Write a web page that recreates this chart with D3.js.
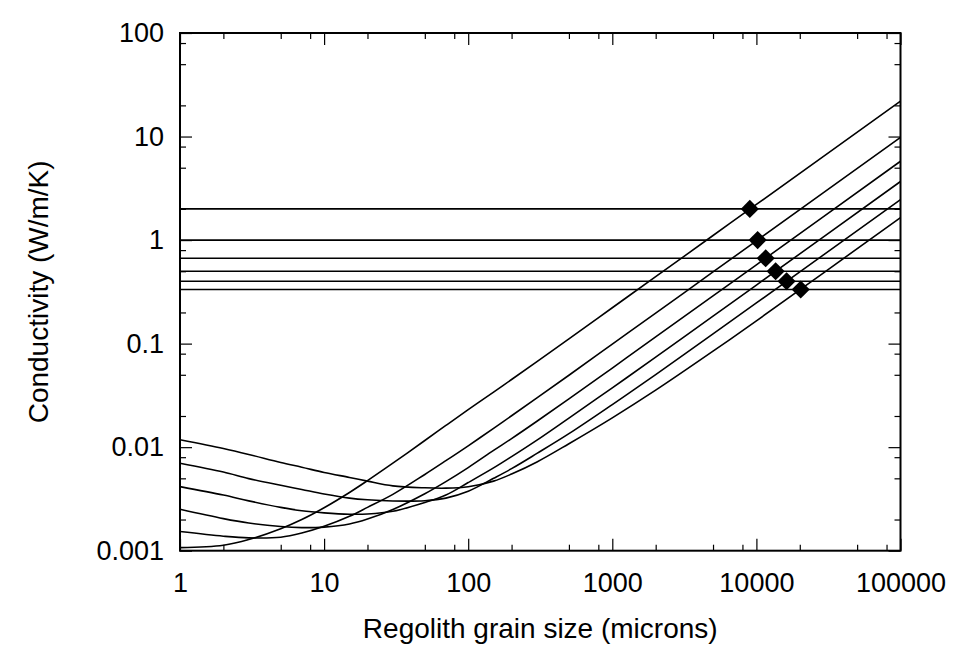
<!DOCTYPE html>
<html>
<head>
<meta charset="utf-8">
<script src="https://d3js.org/d3.v7.min.js"></script>
<style>
  body { margin: 0; background: #fff; }
  text { font-family: "Liberation Sans", Arial, Helvetica, sans-serif; fill: #000; }
  .tick line { stroke: #000; stroke-width: 1.2px; }
</style>
</head>
<body>
<script>
// grain size grid (microns) shared by all curves
var grainSize = [1, 2, 3, 5, 7, 10, 15, 20, 30, 50, 70, 100, 150, 200, 300, 500, 1000, 2000, 5000, 10000, 100000];

// conductivity curves (W/m/K)
var curveA = [0.00107, 0.00113, 0.00128, 0.00163, 0.00200, 0.00260, 0.00365, 0.00475, 0.0070, 0.0116, 0.0162, 0.0230, 0.0340, 0.0450, 0.0670, 0.111, 0.222, 0.443, 1.107, 2.21, 22.0];
var curveB = [0.00153, 0.00138, 0.00133, 0.00135, 0.00148, 0.00172, 0.00215, 0.00262, 0.00350, 0.00545, 0.0074, 0.0103, 0.0152, 0.0201, 0.0299, 0.0495, 0.0988, 0.197, 0.492, 0.984, 9.83];
var curveC = [0.00251, 0.00204, 0.00185, 0.00171, 0.00167, 0.00169, 0.00181, 0.00202, 0.00250, 0.00355, 0.00465, 0.00635, 0.0093, 0.0121, 0.0178, 0.0293, 0.0581, 0.116, 0.289, 0.577, 5.77];
var curveD = [0.00416, 0.00345, 0.00303, 0.00262, 0.00243, 0.00232, 0.00225, 0.00226, 0.00240, 0.00292, 0.00345, 0.00455, 0.0063, 0.0081, 0.0117, 0.0191, 0.0374, 0.0740, 0.184, 0.368, 3.68];
var curveE = [0.0070, 0.00575, 0.00497, 0.00428, 0.00390, 0.00353, 0.00322, 0.00310, 0.00302, 0.00304, 0.00322, 0.00375, 0.0050, 0.0062, 0.0087, 0.0135, 0.0258, 0.0502, 0.124, 0.247, 2.46];
var curveF = [0.0118, 0.0097, 0.0085, 0.0071, 0.0064, 0.0057, 0.0051, 0.0047, 0.00423, 0.00405, 0.00402, 0.00415, 0.0047, 0.0055, 0.0072, 0.0108, 0.0192, 0.0355, 0.0845, 0.166, 1.65];

// horizontal levels and the marked points on them
var levelK = [2, 1, 0.667, 0.5, 0.4, 0.333];
var markGrain = [9000, 10200, 11600, 13600, 16200, 20300];

var xTicks = [1, 10, 100, 1000, 10000, 100000];
var xTickLabels = ["1", "10", "100", "1000", "10000", "100000"];
var yTicks = [0.001, 0.01, 0.1, 1, 10, 100];
var yTickLabels = ["0.001", "0.01", "0.1", "1", "10", "100"];
var minorSteps = [2, 5, 8];

var width = 972, height = 664;
var plotL = 180, plotR = 900.5, plotT = 33, plotB = 550.7;

var svg = d3.select("body").append("svg")
    .attr("width", width)
    .attr("height", height);

var x = d3.scaleLog().domain([1, 100000]).range([plotL, plotR]);
var y = d3.scaleLog().domain([0.001, 100]).range([plotB, plotT]);

function minors(majors) {
  var out = [];
  majors.slice(0, -1).forEach(function (m) {
    minorSteps.forEach(function (s) { out.push(m * s); });
  });
  return out;
}
var xMinor = minors(xTicks), yMinor = minors(yTicks);

// axes: ticks point inward on all four sides
function addAxis(axis, tx, ty, vals, size, labels, pad) {
  var g = svg.append("g")
      .attr("transform", "translate(" + tx + "," + ty + ")")
      .call(axis.tickValues(vals).tickSize(-size).tickPadding(pad || 0)
        .tickFormat(labels ? function (d, i) { return labels[i]; } : ""));
  g.select(".domain").remove();
  g.selectAll("text").style("font-size", "27px");
  return g;
}
addAxis(d3.axisBottom(x), 0, plotB, xTicks, 12, xTickLabels, 22);
addAxis(d3.axisBottom(x), 0, plotB, xMinor, 6);
addAxis(d3.axisTop(x), 0, plotT, xTicks, 12);
addAxis(d3.axisTop(x), 0, plotT, xMinor, 6);
addAxis(d3.axisLeft(y), plotL, 0, yTicks, 12, yTickLabels, 16);
addAxis(d3.axisLeft(y), plotL, 0, yMinor, 6);
addAxis(d3.axisRight(y), plotR, 0, yTicks, 12);
addAxis(d3.axisRight(y), plotR, 0, yMinor, 6);

// plot contents
var plot = svg.append("g");

plot.selectAll("line.level")
  .data(levelK)
  .enter().append("line")
    .attr("class", "level")
    .attr("x1", x(1)).attr("x2", x(100000))
    .attr("y1", function (d) { return y(d); })
    .attr("y2", function (d) { return y(d); })
    .attr("stroke", "#000")
    .attr("stroke-width", 1.6);

var line = d3.line()
    .x(function (d, i) { return x(grainSize[i]); })
    .y(function (d) { return y(d); })
    .curve(d3.curveCatmullRom.alpha(0.5));

plot.selectAll("path.curve")
  .data([curveA, curveB, curveC, curveD, curveE, curveF])
  .enter().append("path")
    .attr("class", "curve")
    .attr("d", line)
    .attr("fill", "none")
    .attr("stroke", "#000")
    .attr("stroke-width", 1.6);

plot.selectAll("path.mark")
  .data(levelK)
  .enter().append("path")
    .attr("class", "mark")
    .attr("d", d3.symbol().type(d3.symbolSquare).size(165))
    .attr("transform", function (d, i) {
      return "translate(" + x(markGrain[i]) + "," + y(d) + ") rotate(45)";
    })
    .attr("fill", "#000");

// frame
svg.append("rect")
    .attr("x", plotL).attr("y", plotT)
    .attr("width", plotR - plotL).attr("height", plotB - plotT)
    .attr("fill", "none")
    .attr("stroke", "#000")
    .attr("stroke-width", 2);

// axis titles
svg.append("text")
    .attr("x", (plotL + plotR) / 2)
    .attr("y", 638)
    .attr("text-anchor", "middle")
    .style("font-size", "28px")
    .text("Regolith grain size (microns)");

svg.append("text")
    .attr("transform", "translate(48," + (plotT + plotB) / 2 + ") rotate(-90)")
    .attr("text-anchor", "middle")
    .style("font-size", "28px")
    .text("Conductivity (W/m/K)");
</script>
</body>
</html>
